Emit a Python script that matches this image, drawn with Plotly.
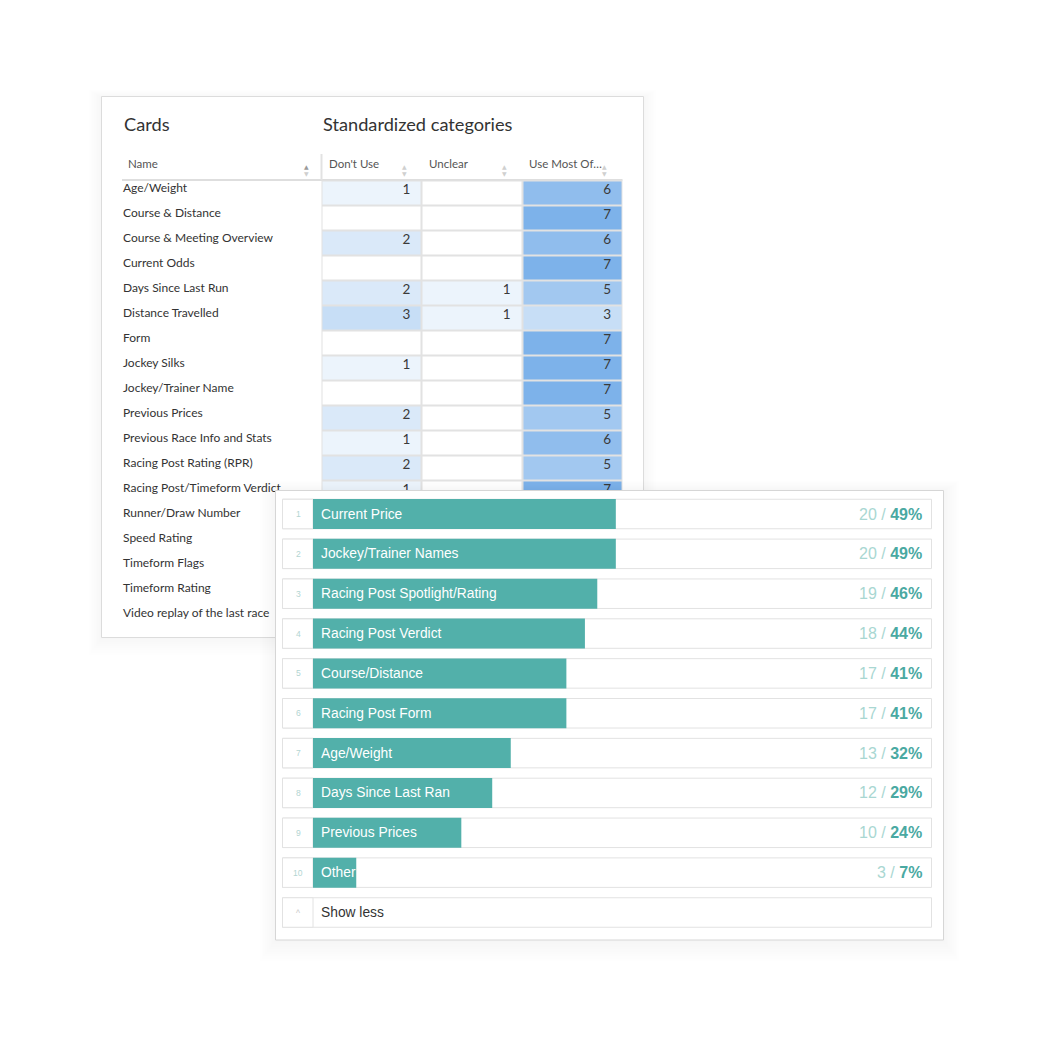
import plotly.graph_objects as go

W = H = 1042
OX = OY = 8.0   # page body margin of the written html

# ---------------- data: card sort table ----------------
card_names = [
    "Age/Weight", "Course & Distance", "Course & Meeting Overview", "Current Odds",
    "Days Since Last Run", "Distance Travelled", "Form", "Jockey Silks",
    "Jockey/Trainer Name", "Previous Prices", "Previous Race Info and Stats",
    "Racing Post Rating (RPR)", "Racing Post/Timeform Verdict", "Runner/Draw Number",
    "Speed Rating", "Timeform Flags", "Timeform Rating", "Video replay of the last race",
]
category_labels = ["Don't Use", "Unclear", "Use Most Of…"]
dont_use = [1, 0, 2, 0, 2, 3, 0, 1, 0, 2, 1, 2, 1, 1, 2, 2, 1, 1]
unclear = [0, 0, 0, 0, 1, 1, 0, 0, 0, 0, 0, 0, 0, 0, 0, 1, 0, 0]
use_most = [6, 7, 6, 7, 5, 3, 7, 7, 7, 5, 6, 5, 7, 6, 5, 4, 6, 6]

# ---------------- data: ranking ----------------
rank_labels = [
    "Current Price", "Jockey/Trainer Names", "Racing Post Spotlight/Rating",
    "Racing Post Verdict", "Course/Distance", "Racing Post Form", "Age/Weight",
    "Days Since Last Ran", "Previous Prices", "Other",
]
rank_counts = [20, 20, 19, 18, 17, 17, 13, 12, 10, 3]
rank_pcts = [49, 49, 46, 44, 41, 41, 32, 29, 24, 7]

TABLE_FONT = "Lato, Open Sans, sans-serif"
BAR_FONT = "Liberation Sans, Arial, sans-serif"
TEAL = "#52b0aa"


def PX(px):
    return (px - OX) / W


def PY(py):
    return 1 - (py - OY) / H


# ---------------- geometry (reference pixels) ----------------
TL, TR, TT, TB = 101.5, 643.5, 96.5, 637.5
CELL_L, CW, CELL_T, RH = 321.5, 100.33, 180.5, 25.0


def u_of(px):  # table x units (column index)
    return (px - CELL_L) / CW - 0.5


def r_of(py):  # table y units (row index)
    return (py - CELL_T) / RH - 0.5


BX0, BXS = 313.0, 6.18      # px of 0 %, px per %
BY1, BYS = 514.0, 39.85     # px of row 1 center, px per row
PL, PR, PT, PB = 275.5, 943.5, 490.5, 940.0
D2L, D2R, D2T, D2B = 250.0, 968.0, 468.0, 972.0


def vx(px):
    return (px - BX0) / BXS


def ky(py):
    return (py - BY1) / BYS + 1


fig = go.Figure()

# ---------------- table heatmap (subplot 1) ----------------
n = len(card_names)
cols = [dont_use, unclear, use_most]
z = [[cols[j][i] for j in range(3)] for i in range(n)]
fig.add_trace(go.Heatmap(
    x=list(range(3)), y=list(range(n)), z=z,
    zmin=0, zmax=7, colorscale=[[0, "#ffffff"], [1, "#7db2ea"]],
    showscale=False, xgap=2, ygap=2, hoverinfo="skip",
    xaxis="x", yaxis="y",
))
# rows whose cells are not hidden under the ranking panel
visible_row = [CELL_T + i * RH < PT for i in range(n)]
for j, col in enumerate(cols):
    fig.add_trace(go.Scatter(
        x=[j + 0.5 - 11.5 / CW] * n, y=[i - 0.1 for i in range(n)],
        text=[str(v) if (v and visible_row[i]) else "" for i, v in enumerate(col)],
        mode="text", textposition="middle left",
        textfont=dict(family=TABLE_FONT, size=13.5, color="#3a3a3a"),
        hoverinfo="skip", xaxis="x", yaxis="y", cliponaxis=False,
    ))
fig.add_trace(go.Scatter(
    x=[u_of(123)] * n, y=[i - 0.15 for i in range(n)], text=card_names,
    mode="text", textposition="middle right",
    textfont=dict(family=TABLE_FONT, size=12, color="#333333"),
    hoverinfo="skip", xaxis="x", yaxis="y", cliponaxis=False,
))

# ---------------- ranking panel (subplot 2) ----------------
def panel_bar(l, r, t, b, fill, line_color, line_width):
    return go.Bar(
        orientation="h", y=[ky((t + b) / 2)], x=[vx(r) - vx(l)], base=[vx(l)],
        width=[(b - t) / BYS],
        marker=dict(color=fill, line=dict(color=line_color, width=line_width)),
        hoverinfo="skip", xaxis="x2", yaxis="y2",
    )


for s in range(1, 10):
    fig.add_trace(panel_bar(PL - 1.8 * s, PR + 1.8 * s, PT - 1.2 * s + 1, PB + 2.4 * s,
                            "rgba(0,0,0,0.0055)", "rgba(0,0,0,0)", 0))
fig.add_trace(panel_bar(PL, PR, PT, PB, "#ffffff", "#d6d6d6", 1))

rows_k = list(range(1, len(rank_labels) + 2))
box_h = 29.5 / BYS
fig.add_trace(go.Bar(
    orientation="h", y=rows_k, x=[vx(931.5) - vx(282.5)] * len(rows_k),
    base=[vx(282.5)] * len(rows_k), width=[box_h] * len(rows_k),
    marker=dict(color="#ffffff", line=dict(color="#e2e2e2", width=1)),
    hoverinfo="skip", xaxis="x2", yaxis="y2",
))
fig.add_trace(go.Bar(
    orientation="h", y=rows_k, x=[vx(313) - vx(282.5)] * len(rows_k),
    base=[vx(282.5)] * len(rows_k), width=[box_h] * len(rows_k),
    marker=dict(color="#ffffff", line=dict(color="#e2e2e2", width=1)),
    hoverinfo="skip", xaxis="x2", yaxis="y2",
))
ranks = list(range(1, len(rank_labels) + 1))
fig.add_trace(go.Bar(
    orientation="h", y=ranks, x=rank_pcts, base=0, width=30 / BYS,
    marker=dict(color=TEAL, line=dict(width=0)),
    hoverinfo="skip", xaxis="x2", yaxis="y2",
))

ann = []
for k, lab, c, p in zip(ranks, rank_labels, rank_counts, rank_pcts):
    ann.append(dict(xref="x2", yref="y2", x=vx(298), y=k, text=str(k), showarrow=False,
                    font=dict(family=BAR_FONT, size=8.5, color="#b3d5d2")))
    ann.append(dict(xref="x2", yref="y2", x=0, y=k, text=lab, showarrow=False,
                    xanchor="left", xshift=6,
                    font=dict(family=BAR_FONT, size=13.8, color="#ffffff")))
    ann.append(dict(xref="x2", yref="y2", x=vx(924), y=k, xanchor="right", showarrow=False,
                    text=f"<span style='color:#a9d7d2'>{c} / </span><b>{p}%</b>",
                    font=dict(family=BAR_FONT, size=16, color="#4aa9a2")))
k_more = len(rank_labels) + 1
ann.append(dict(xref="x2", yref="y2", x=vx(298), y=k_more, text="^", showarrow=False,
                font=dict(family=BAR_FONT, size=8.5, color="#c8c8c8")))
ann.append(dict(xref="x2", yref="y2", x=0, y=k_more, text="Show less", showarrow=False,
                xanchor="left", xshift=6,
                font=dict(family=BAR_FONT, size=13.8, color="#333333")))

# ---------------- table headers ----------------
for txt, px in [("Cards", 122), ("Standardized categories", 321)]:
    ann.append(dict(xref="paper", yref="paper", x=PX(px), y=PY(124), text=txt,
                    showarrow=False, xanchor="left", yanchor="middle",
                    font=dict(family=TABLE_FONT, size=18.2, color="#333333")))
ann.append(dict(xref="paper", yref="paper", x=PX(126), y=PY(164), text="Name",
                showarrow=False, xanchor="left", yanchor="middle",
                font=dict(family=TABLE_FONT, size=11.5, color="#555555")))
for j, lab in enumerate(category_labels):
    ann.append(dict(xref="x", yref="paper", x=j - 0.5 + 5.0 / CW, y=PY(164), text=lab,
                    showarrow=False, xanchor="left", yanchor="middle",
                    font=dict(family=TABLE_FONT, size=11.5, color="#555555")))
    for sym, py in [("▲", 160.5), ("▼", 168)]:
        ann.append(dict(xref="x", yref="paper", x=j + 0.5 - 17.5 / CW, y=PY(py),
                        text=sym, showarrow=False,
                        font=dict(family="DejaVu Sans", size=6, color="#d0d0d0")))
for sym, py, colr in [("▲", 160.5, "#9a9a9a"), ("▼", 168, "#cfcfcf")]:
    ann.append(dict(xref="paper", yref="paper", x=PX(302), y=PY(py), text=sym,
                    showarrow=False, font=dict(family="DejaVu Sans", size=6, color=colr)))

shapes = []
for s in range(1, 9):
    shapes.append(dict(type="rect", xref="paper", yref="paper",
                       x0=PX(TL - 1.6 * s), x1=PX(TR + 1.6 * s),
                       y0=PY(TB + 2.2 * s), y1=PY(TT - 1.0 * s + 1),
                       fillcolor="rgba(0,0,0,0.0055)", line=dict(width=0), layer="below"))
shapes.append(dict(type="rect", xref="paper", yref="paper", x0=PX(TL), x1=PX(TR),
                   y0=PY(TB), y1=PY(TT),
                   fillcolor="#ffffff", line=dict(color="#dcdcdc", width=1), layer="below"))
shapes.append(dict(type="line", xref="paper", yref="paper", x0=PX(122), x1=PX(622.5),
                   y0=PY(180), y1=PY(180), line=dict(color="#dedede", width=2), layer="below"))
shapes.append(dict(type="line", xref="paper", yref="paper", x0=PX(321.5), x1=PX(321.5),
                   y0=PY(180), y1=PY(154), line=dict(color="#e2e2e2", width=2), layer="below"))
shapes.append(dict(type="rect", xref="x", yref="y", x0=-0.5, x1=2.5, y0=-0.5, y1=n - 0.5,
                   fillcolor="#e2e2e2", line=dict(width=0), layer="below"))

hidden = dict(visible=False, showgrid=False, zeroline=False, fixedrange=True)
fig.update_layout(
    width=W, height=H, margin=dict(l=0, r=0, t=0, b=0),
    paper_bgcolor="#ffffff", plot_bgcolor="rgba(0,0,0,0)",
    showlegend=False, hovermode=False, barmode="overlay",
    xaxis=dict(domain=[PX(TL), PX(TR)], range=[u_of(TL), u_of(TR)], **hidden),
    yaxis=dict(domain=[PY(TB), PY(TT)], range=[r_of(TB), r_of(TT)], **hidden),
    xaxis2=dict(domain=[PX(D2L), PX(D2R)], range=[vx(D2L), vx(D2R)], anchor="y2", **hidden),
    yaxis2=dict(domain=[PY(D2B), PY(D2T)], range=[ky(D2B), ky(D2T)], anchor="x2", **hidden),
    annotations=ann, shapes=shapes,
)

fig.write_html("out.html")
